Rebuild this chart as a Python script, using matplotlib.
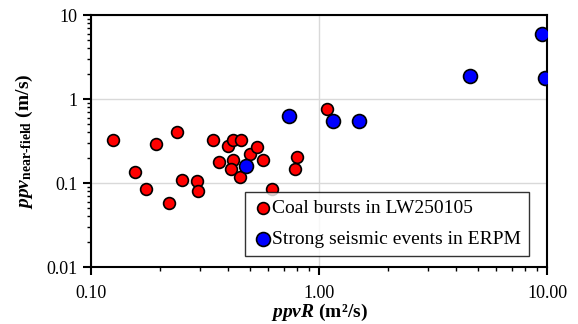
import matplotlib.pyplot as plt
from matplotlib.ticker import FixedLocator, LogLocator, NullFormatter

plt.rcParams['font.family'] = 'Liberation Serif'
plt.rcParams['mathtext.fontset'] = 'custom'
plt.rcParams['mathtext.rm'] = 'Liberation Serif'
plt.rcParams['mathtext.it'] = 'Liberation Serif:italic'
plt.rcParams['mathtext.bf'] = 'Liberation Serif:bold'
plt.rcParams['mathtext.bfit'] = 'Liberation Serif:bold:italic'

# coal bursts in LW250105
coal_x = [0.1245, 0.156, 0.175, 0.193, 0.22, 0.239, 0.25, 0.291, 0.296, 0.344,
          0.365, 0.40, 0.418, 0.418, 0.411, 0.456, 0.452, 0.50, 0.535, 0.57,
          0.624, 0.80, 0.785, 1.087]
coal_y = [0.325, 0.136, 0.085, 0.291, 0.058, 0.402, 0.109, 0.106, 0.080, 0.325,
          0.176, 0.278, 0.328, 0.188, 0.147, 0.322, 0.117, 0.22, 0.27, 0.186,
          0.085, 0.202, 0.147, 0.77]

# strong seismic events in ERPM
erpm_x = [0.479, 0.74, 1.15, 1.497, 4.58, 9.51, 9.83]
erpm_y = [0.159, 0.624, 0.547, 0.547, 1.89, 5.94, 1.76]

fig = plt.figure(figsize=(5.78, 3.24), dpi=100)
ax = fig.add_axes([0.1574, 0.1759, 0.789, 0.7778])

ax.scatter(coal_x, coal_y, s=72, c='#ff0000', edgecolors='black', linewidths=1.2,
           label='Coal bursts in LW250105', zorder=3)
ax.scatter(erpm_x, erpm_y, s=100, c='#0000ff', edgecolors='black', linewidths=1.2,
           label='Strong seismic events in ERPM', zorder=3)

ax.set_xscale('log')
ax.set_yscale('log')
ax.set_xlim(0.1, 10)
ax.set_ylim(0.01, 10)

ax.xaxis.set_major_locator(FixedLocator([0.1, 1, 10]))
ax.set_xticklabels(['0.10', '1.00', '10.00'])
ax.yaxis.set_major_locator(FixedLocator([0.01, 0.1, 1, 10]))
ax.set_yticklabels(['0.01', '0.1', '1', '10'])
ax.xaxis.set_minor_locator(LogLocator(base=10, subs=range(2, 10)))
ax.yaxis.set_minor_locator(LogLocator(base=10, subs=range(2, 10)))
ax.xaxis.set_minor_formatter(NullFormatter())
ax.yaxis.set_minor_formatter(NullFormatter())

ax.tick_params(which='major', direction='out', length=6, width=1.5, labelsize=13)
ax.tick_params(axis='x', which='major', pad=7)
ax.tick_params(which='minor', direction='out', length=3, width=1)

ax.grid(True, which='major', color='#d9d9d9', linewidth=1)
ax.set_axisbelow(True)
for s in ax.spines.values():
    s.set_linewidth(1.5)

ax.set_xlabel(r'$\mathbfit{ppvR}$ $\mathbf{(m²/s)}$', fontsize=14, labelpad=0)
ax.set_ylabel(r'$\mathbfit{ppv}_{\mathbf{near\text{-}field}}$ $\mathbf{(m/s)}$',
              fontsize=14, labelpad=8)

leg = ax.legend(loc='lower right', bbox_to_anchor=(0.9605, 0.0437), fontsize=14,
                frameon=True, fancybox=False, edgecolor='black', handletextpad=0.0,
                handlelength=1.0, borderpad=0.4, labelspacing=0.7,
                borderaxespad=0)
leg.get_frame().set_linewidth(1)

plt.savefig('out.png', dpi=100)
plt.close()
